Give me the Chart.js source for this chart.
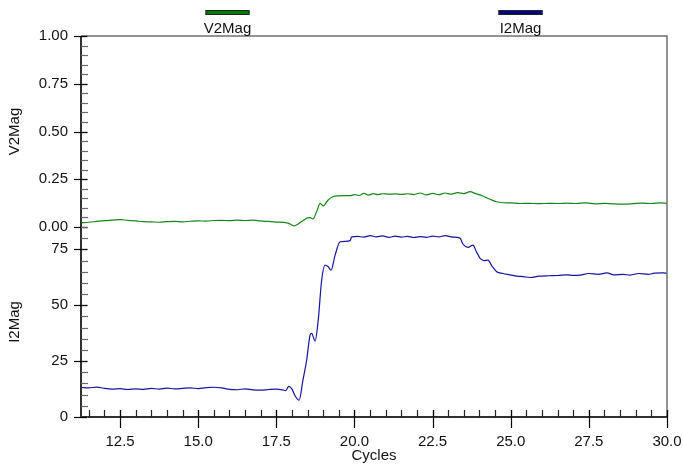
<!DOCTYPE html>
<html>
<head>
<meta charset="utf-8">
<script src="https://cdn.jsdelivr.net/npm/chart.js@4.4.1/dist/chart.umd.min.js"></script>
<style>
html, body { margin: 0; padding: 0; background: #fff; }
</style>
</head>
<body>
<canvas id="grafico" width="683" height="466"></canvas>
<script>
// Datos
const nombres = ['V2Mag', 'I2Mag'];
const colores = ['rgb(20,135,20)', 'rgb(20,20,160)'];

const vCycles = [11.25, 11.5, 11.75, 12.0, 12.25, 12.5, 12.75, 13.0, 13.25, 13.5, 13.75, 14.0, 14.25, 14.5, 14.75,
    15.0, 15.25, 15.5, 15.75, 16.0, 16.25, 16.5, 16.75, 17.0, 17.25, 17.5, 17.75, 17.9, 18.07, 18.2, 18.35,
    18.5, 18.58, 18.67, 18.8, 18.9, 19.0, 19.15, 19.31, 19.5, 19.7, 19.86, 20.0, 20.15, 20.3, 20.45, 20.6,
    20.75, 20.9, 21.1, 21.3, 21.5, 21.7, 21.9, 22.1, 22.3, 22.5, 22.7, 22.9, 23.1, 23.3, 23.5, 23.7, 23.85,
    24.02, 24.2, 24.34, 24.55, 24.75, 25.0, 25.3, 25.6, 25.9, 26.2, 26.5, 26.8, 27.1, 27.4, 27.7, 28.0,
    28.3, 28.6, 28.9, 29.2, 29.5, 29.8, 30.0];
const vMag = [0.022, 0.025, 0.029, 0.033, 0.036, 0.039, 0.035, 0.032, 0.028, 0.027, 0.025, 0.028, 0.029, 0.027, 0.030,
    0.032, 0.031, 0.034, 0.035, 0.033, 0.036, 0.034, 0.036, 0.032, 0.029, 0.026, 0.024, 0.019, 0.006, 0.016, 0.033,
    0.048, 0.049, 0.042, 0.085, 0.124, 0.110, 0.140, 0.158, 0.163, 0.164, 0.164, 0.170, 0.165, 0.176, 0.167, 0.175,
    0.170, 0.174, 0.172, 0.173, 0.171, 0.174, 0.170, 0.178, 0.168, 0.176, 0.169, 0.178, 0.172, 0.180, 0.175, 0.185, 0.176,
    0.168, 0.155, 0.145, 0.132, 0.127, 0.126, 0.123, 0.124, 0.122, 0.124, 0.123, 0.125, 0.123, 0.126, 0.121, 0.124,
    0.121, 0.120, 0.122, 0.125, 0.123, 0.126, 0.124];

const iCycles = [11.25, 11.5, 11.75, 12.0, 12.25, 12.5, 12.75, 13.0, 13.25, 13.5, 13.75, 14.0, 14.25, 14.5, 14.75,
    15.0, 15.25, 15.5, 15.75, 16.0, 16.25, 16.5, 16.75, 17.0, 17.25, 17.5, 17.7, 17.8, 17.9, 18.0, 18.1, 18.23,
    18.35, 18.47, 18.58, 18.63, 18.74, 18.84, 18.95, 19.06, 19.16, 19.25, 19.38, 19.54, 19.7, 19.86, 19.91,
    20.1, 20.3, 20.5, 20.7, 20.9, 21.1, 21.3, 21.5, 21.7, 21.9, 22.1, 22.3, 22.5, 22.7, 22.9, 23.1, 23.27,
    23.38, 23.47, 23.63, 23.79, 23.9, 24.02, 24.15, 24.27, 24.4, 24.55, 24.75, 24.98, 25.2, 25.4, 25.62,
    25.9, 26.2, 26.5, 26.8, 27.0, 27.22, 27.5, 27.8, 28.08, 28.3, 28.6, 28.82, 29.1, 29.4, 29.6, 29.87, 30.0];
const iMag = [13.2, 13.0, 13.4, 12.8, 12.5, 12.7, 12.3, 12.6, 12.4, 12.8, 12.5, 12.9, 12.6, 12.8, 13.0,
    12.7, 13.1, 13.3, 13.0, 12.4, 12.2, 12.6, 12.1, 12.0, 12.3, 12.5, 12.1, 11.8, 13.7, 12.5, 9.5, 7.5,
    16.4, 25.4, 36.6, 37.4, 34.0, 43.3, 61.2, 68.0, 67.2, 65.7, 72.4, 78.4, 78.6, 78.9, 80.6,
    80.8, 80.5, 81.1, 80.6, 81.0, 80.4, 80.9, 80.5, 80.8, 80.3, 80.7, 80.4, 80.9, 80.6, 81.1, 80.6, 80.4,
    80.0, 77.4, 75.9, 76.9, 74.0, 71.0, 70.0, 70.2, 67.5, 65.0, 64.2, 63.6, 63.0, 62.8, 62.4,
    63.0, 63.2, 63.3, 63.6, 63.4, 63.5, 64.2, 63.8, 64.5, 63.6, 63.8, 63.5, 64.2, 63.8, 64.4, 64.5, 64.3];

const xTicks = [12.5, 15, 17.5, 20, 22.5, 25, 27.5, 30];
const vTicks = [0, 0.25, 0.5, 0.75, 1];
const iTicks = [0, 25, 50, 75];

const fuente = { family: '"Liberation Sans", Arial, sans-serif', size: 15 };

function puntos(xs, ys) {
    return xs.map((x, i) => ({ x: x, y: ys[i] }));
}

function fijarTicks(valores) {
    return scale => { scale.ticks = valores.map(v => ({ value: v })); };
}

// marcas de ejes, borde y leyenda arriba
const marcasPlugin = {
    id: 'marcas',
    afterDraw(chart) {
        const ctx = chart.ctx;
        const a = chart.chartArea;
        const sx = chart.scales.x;
        ctx.save();

        // borde
        ctx.lineWidth = 1.5;
        ctx.strokeStyle = '#707070';
        ctx.beginPath();
        ctx.moveTo(a.left, a.top);
        ctx.lineTo(a.right, a.top);
        ctx.lineTo(a.right, a.bottom);
        ctx.stroke();
        ctx.strokeStyle = '#303030';
        ctx.lineWidth = 2;
        ctx.beginPath();
        ctx.moveTo(a.left, a.top);
        ctx.lineTo(a.left, a.bottom);
        ctx.lineTo(a.right, a.bottom);
        ctx.stroke();

        // ticks eje y
        const ejesY = [['yV', 0.05], ['yI', 5]];
        ejesY.forEach(([id, paso]) => {
            const s = chart.scales[id];
            ctx.lineWidth = 1.2;
            ctx.strokeStyle = '#666';
            for (let v = s.min; v <= s.max + 1e-9; v += paso) {
                const y = Math.round(s.getPixelForValue(v)) + 0.5;
                ctx.beginPath();
                ctx.moveTo(a.left, y);
                ctx.lineTo(a.left + 7, y);
                ctx.stroke();
            }
            ctx.strokeStyle = '#000';
            s.ticks.forEach(t => {
                const y = Math.round(s.getPixelForValue(t.value)) + 0.5;
                ctx.beginPath();
                ctx.moveTo(a.left - 7, y);
                ctx.lineTo(a.left + 6, y);
                ctx.stroke();
            });
        });

        // ticks eje x
        ctx.strokeStyle = '#222';
        ctx.lineWidth = 1.2;
        for (let v = 11.5; v <= sx.max + 1e-9; v += 0.5) {
            const x = Math.round(sx.getPixelForValue(v)) + 0.5;
            ctx.beginPath();
            ctx.moveTo(x, a.bottom);
            ctx.lineTo(x, a.bottom - 7);
            ctx.stroke();
        }
        ctx.strokeStyle = '#000';
        sx.ticks.forEach(t => {
            const x = Math.round(sx.getPixelForValue(t.value)) + 0.5;
            ctx.beginPath();
            ctx.moveTo(x, a.bottom - 7);
            ctx.lineTo(x, a.bottom + 11);
            ctx.stroke();
        });

        // leyenda
        ctx.font = '15px "Liberation Sans", Arial, sans-serif';
        ctx.textAlign = 'center';
        ctx.textBaseline = 'middle';
        chart.data.datasets.forEach((ds, i) => {
            const cx = a.left + (a.right - a.left) * (i === 0 ? 0.25 : 0.75);
            ctx.fillStyle = i === 0 ? 'rgb(0,125,0)' : 'rgb(0,0,135)';
            ctx.fillRect(cx - 22, 10, 44, 5);
            ctx.strokeStyle = '#222';
            ctx.lineWidth = 1;
            ctx.strokeRect(cx - 22 + 0.5, 10 + 0.5, 43, 4);
            ctx.fillStyle = '#111';
            ctx.fillText(ds.label, cx, 29);
        });
        ctx.restore();
    }
};

const ctx = document.getElementById('grafico').getContext('2d');
new Chart(ctx, {
    type: 'line',
    data: {
        datasets: [
            {
                label: nombres[0],
                data: puntos(vCycles, vMag),
                yAxisID: 'yV',
                borderColor: colores[0],
                borderWidth: 1.2,
                pointRadius: 0,
                cubicInterpolationMode: 'monotone'
            },
            {
                label: nombres[1],
                data: puntos(iCycles, iMag),
                yAxisID: 'yI',
                borderColor: colores[1],
                borderWidth: 1.2,
                pointRadius: 0,
                cubicInterpolationMode: 'monotone'
            }
        ]
    },
    options: {
        responsive: false,
        animation: false,
        devicePixelRatio: 1,
        layout: { padding: { top: 36, right: 16, left: 0, bottom: 0 } },
        plugins: {
            legend: { display: false },
            tooltip: { enabled: false }
        },
        scales: {
            x: {
                type: 'linear',
                min: 11.25,
                max: 30,
                afterBuildTicks: fijarTicks(xTicks),
                afterFit: s => { s.height = 49; s.paddingLeft = 0; s.paddingRight = 0; },
                grid: { display: false, drawTicks: false },
                border: { display: false },
                ticks: { color: '#111', font: fuente, padding: 16, maxRotation: 0, autoSkip: false,
                    callback: v => v.toFixed(1) },
                title: { display: true, text: 'Cycles', color: '#111', font: fuente, padding: { top: 0, bottom: 1 } }
            },
            yI: {
                type: 'linear',
                position: 'left',
                stack: 'paneles',
                stackWeight: 190,
                min: 0,
                max: 85,
                afterBuildTicks: fijarTicks(iTicks),
                afterFit: s => { s.width = 81; s.paddingTop = 0; s.paddingBottom = 0; },
                grid: { display: false, drawTicks: false },
                border: { display: false },
                ticks: { color: '#111', font: fuente, padding: 13, callback: v => String(v) },
                title: { display: true, text: 'I2Mag', color: '#111', font: fuente, padding: { top: 6, bottom: 0 } }
            },
            yV: {
                type: 'linear',
                position: 'left',
                stack: 'paneles',
                stackWeight: 191,
                min: 0,
                max: 1,
                afterBuildTicks: fijarTicks(vTicks),
                afterFit: s => { s.width = 81; s.paddingTop = 0; s.paddingBottom = 0; },
                grid: { display: false, drawTicks: false },
                border: { display: false },
                ticks: { color: '#111', font: fuente, padding: 13, callback: v => v.toFixed(2) },
                title: { display: true, text: 'V2Mag', color: '#111', font: fuente, padding: { top: 6, bottom: 0 } }
            }
        }
    },
    plugins: [marcasPlugin]
});
</script>
</body>
</html>
